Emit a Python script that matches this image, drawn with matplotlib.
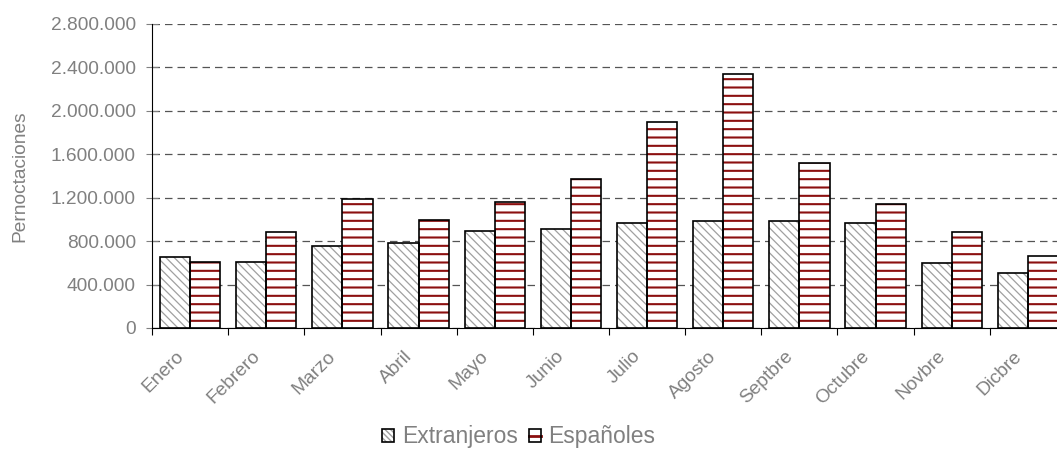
import matplotlib
matplotlib.use("Agg")
import matplotlib.pyplot as plt
import matplotlib.patches as mpatches
import matplotlib.transforms as mtransforms
from matplotlib.lines import Line2D
from matplotlib.ticker import FuncFormatter, FixedLocator
import numpy as np

# Pernoctaciones mensuales por procedencia
meses = ["Enero", "Febrero", "Marzo", "Abril", "Mayo", "Junio",
         "Julio", "Agosto", "Septbre", "Octubre", "Novbre", "Dicbre"]
extranjeros = [654000, 608000, 756000, 781000, 894000, 910000,
               968000, 986000, 986000, 968000, 599000, 507000]
espanoles = [608000, 885000, 1189000, 993000, 1156000, 1373000,
             1899000, 2341000, 1521000, 1140000, 885000, 664000]
y_ticks = [0, 400000, 800000, 1200000, 1600000, 2000000, 2400000, 2800000]

GREY_TEXT = "#808080"
EXT_HATCH = "#a0a0a0"
ESP_HATCH = "#8b0f0f"

plt.rcParams["font.family"] = ["Liberation Sans", "DejaVu Sans"]
plt.rcParams["font.size"] = 13.8

fig = plt.figure(figsize=(10.57, 4.5), dpi=100)
# the plot area runs a little past the right edge of the figure
ax = fig.add_axes([152 / 1057, 1 - 328 / 450, 914 / 1057, 304 / 450])

x = np.arange(len(meses))
w = 0.395
gap = 0.105


def hatched_bars(left, vals, hatch, hcolor, hlw):
    # hatch pass (hatch takes edge colour), then a plain black outline on top
    with plt.rc_context({"hatch.linewidth": hlw}):
        ax.bar(left, vals, width=w, align="edge", color="white",
               edgecolor=hcolor, hatch=hatch, linewidth=0, zorder=2)
    ax.bar(left, vals, width=w, align="edge", fill=False,
           edgecolor="black", linewidth=1.2, zorder=3)


hatched_bars(x + gap, extranjeros, "\\\\\\\\", EXT_HATCH, 0.9)
hatched_bars(x + gap + w, espanoles, "--", ESP_HATCH, 1.5)

ax.set_xlim(0, len(meses))
ax.set_ylim(0, 2800000)

ax.yaxis.set_major_locator(FixedLocator(y_ticks))
ax.yaxis.set_major_formatter(FuncFormatter(lambda v, p: f"{int(v):,}".replace(",", ".")))
ax.grid(axis="y", color="#555555", linestyle=(0, (6, 4)), linewidth=0.9, zorder=1)

ax.set_xticks(np.arange(len(meses) + 1))
ax.set_xticklabels([])
ax.set_xticks(x + 0.5, minor=True)
ax.set_xticklabels(meses, minor=True, rotation=45, ha="right",
                   rotation_mode="anchor", color=GREY_TEXT)
ax.tick_params(axis="x", which="minor", length=0, pad=12)
ax.tick_params(axis="x", which="major", direction="out", length=5, color="black")
shift = mtransforms.ScaledTranslation(-15 / 100, -3 / 100, fig.dpi_scale_trans)
for lab in ax.get_xticklabels(minor=True):
    lab.set_transform(lab.get_transform() + shift)

ax.tick_params(axis="y", direction="inout", length=8, colors=GREY_TEXT, pad=7.6)
for t in ax.yaxis.get_ticklines():
    t.set_color("black")

for side in ("top", "right"):
    ax.spines[side].set_visible(False)
ax.spines["left"].set_color("black")
ax.spines["bottom"].set_color("black")

ax.set_ylabel("Pernoctaciones", color=GREY_TEXT)
ax.yaxis.set_label_coords((28 - 152) / 914, 0.5)

# legend swatches: hatch patch (or a red stripe) with a black outline laid over it
with plt.rc_context({"hatch.linewidth": 0.9}):
    h_ext_fill = mpatches.Patch(facecolor="white", edgecolor=EXT_HATCH,
                                hatch="\\\\\\\\\\\\", linewidth=0)
outline = dict(fill=False, edgecolor="black", linewidth=1.2)
h_ext = (h_ext_fill, mpatches.Patch(**outline))
h_esp = (mpatches.Patch(facecolor="white", linewidth=0),
         Line2D([], [], color=ESP_HATCH, linewidth=2.0),
         mpatches.Patch(**outline))
leg = fig.legend([h_ext, h_esp], ["Extranjeros", "Españoles"], loc="center",
                 bbox_to_anchor=(519 / 1057, 1 - 437 / 450), ncol=2, frameon=False,
                 handlelength=0.52, handleheight=0.52, handletextpad=0.35,
                 columnspacing=0.45, fontsize=16.5)
for t in leg.get_texts():
    t.set_color(GREY_TEXT)

fig.savefig("out.png", dpi=100)
